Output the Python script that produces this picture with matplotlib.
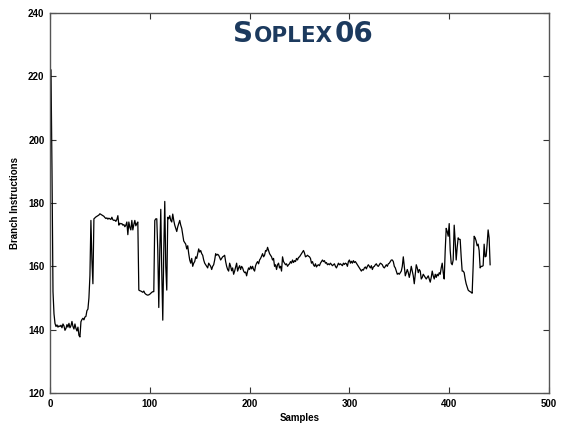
import numpy as np
import matplotlib
matplotlib.use("Agg")
from matplotlib import pyplot as plt
from matplotlib.offsetbox import TextArea, HPacker, AnchoredOffsetbox

OUTPUT_FILE = 'out.png'

# branch instructions per sample (one value per sample)
branch = [
    222.5, 222, 190, 152, 145, 142, 141, 141.5, 140.8, 141.2,
    141, 141.4, 140.6, 141.8, 141.2, 139.8, 140.4, 141.6, 140.8, 142,
    140.6, 141.2, 142.6, 141, 140.2, 141.8, 140.4, 139.6, 140.8, 138.2,
    137.7, 142.5, 143.2, 143.6, 143.1, 144, 144.2, 146, 146.5, 150,
    157, 174.5, 162, 154.5, 175, 175.3, 175.6, 175.8, 176, 176.2,
    176.6, 176.4, 176.2, 176, 175.8, 175.4, 175.1, 175.3, 174.9, 175.2,
    175, 174.8, 175.5, 174.7, 174.5, 174.6, 174.2, 174.8, 176, 173,
    173.6, 173.4, 173.5, 173, 173.2, 172.5, 173, 174, 170, 174,
    172.3, 171.5, 174.5, 171.5, 173.2, 174.5, 172.8, 173.5, 174, 152.5,
    152.3, 152.2, 152, 151.8, 152.2, 151.5, 151.2, 151, 150.9, 151,
    151.2, 151.5, 151.8, 152, 152, 174.5, 175, 175, 165, 147,
    165, 178, 158, 143, 165, 180.5, 160, 152.5, 175.5, 175,
    176, 174.5, 174, 176.5, 174.5, 173, 172, 171, 172.5, 173.5,
    174.5, 173, 172, 170, 168, 167.5, 167, 165.5, 166.5, 164,
    162, 161, 162.5, 160, 161, 161.5, 163, 162.5, 164, 165.5,
    164.5, 165, 164, 163.5, 162, 161, 160.5, 160, 159.5, 161,
    160.5, 160, 159, 160, 160.5, 162, 164, 163.5, 163.8, 163.5,
    162.8, 162, 162.5, 163, 163.2, 163.5, 161.5, 160, 159, 158.5,
    161, 160, 158.6, 159.5, 157.5, 158.5, 159.8, 161, 158.5, 159.5,
    160.2, 159, 160, 159.5, 158.5, 158, 158.2, 157, 158.5, 159.5,
    159, 160, 159.2, 160, 159, 158.5, 160.2, 161, 161.5, 160.8,
    162, 162.5, 163.2, 164, 163, 163.5, 165, 164.8, 166, 165,
    164, 163.5, 163, 162, 162.5, 160, 160.5, 159, 160.5, 161,
    159.5, 160, 158.5, 163, 161.5, 161, 160.5, 160.8, 160, 160.5,
    160.8, 161.5, 161, 162, 161.2, 161.8, 161.5, 162.5, 162, 162.8,
    163, 163.5, 164, 164.5, 165, 164.2, 163, 163.2, 163.5, 163.2,
    163, 162.5, 161, 161.5, 160.5, 160, 160.8, 159.8, 160.3, 160.5,
    160.2, 161, 161.5, 162, 161.5, 161.8, 161, 161.2, 160.5, 160.8,
    160.5, 161, 160.6, 160.2, 160.5, 160.8, 160, 159.5, 160.2, 161,
    160.5, 160.8, 160.5, 160.2, 161, 160.6, 161, 160.8, 160, 161.5,
    162, 161, 161.6, 161, 161.8, 161.2, 161.5, 161, 160.5, 160,
    159.5, 159, 158.5, 159, 158.8, 159.5, 159.8, 159.2, 160, 160.5,
    160, 159.5, 160.2, 159, 159.8, 160, 160.5, 160.8, 160.2, 160,
    160.5, 161, 160.8, 160.5, 159.8, 159.5, 160, 160.5, 160, 160.8,
    161, 161.5, 162, 162, 161.5, 160, 159.5, 158.5, 157.5, 157.8,
    157.5, 158, 158.5, 160, 163, 160, 157, 158, 159, 158,
    156.5, 158, 160, 158.5, 157, 154.5, 157.5, 160.5, 159.5, 158,
    159, 158.5, 156, 156.5, 157.5, 157, 156.5, 156, 156.5, 157,
    156, 155, 156.5, 158.5, 157, 156, 157.5, 156.5, 157.5, 157,
    158, 157.5, 159.5, 161, 158, 156, 165, 172, 171, 169.5,
    173.5, 165, 161, 160.5, 162, 173, 168, 162, 166, 169,
    168.5, 168.5, 163, 158.5, 158.5, 158, 156, 154.5, 153.5, 152.5,
    152.2, 152, 151.8, 151.5, 160, 169.5, 169, 168, 166.5, 167,
    165, 159.5, 160, 160, 160.2, 167, 163, 163.2, 167, 171.5,
    169, 160.5,
]
samples = np.arange(len(branch))

x_ticks = [0, 100, 200, 300, 400, 500]
y_ticks = [120, 140, 160, 180, 200, 220, 240]

plt.rcParams['font.family'] = ['Liberation Sans', 'DejaVu Sans']

fig = plt.figure(figsize=(5.63, 4.25), dpi=100)
ax = fig.add_axes([50 / 563, 1 - 393 / 425, 499 / 563, 380 / 425])

ax.plot(samples, branch, color='black', lw=0.9)

ax.set_xlim(0, 500)
ax.set_ylim(120, 240)
ax.set_xticks(x_ticks)
ax.set_yticks(y_ticks)
ax.tick_params(direction='in', top=True, right=True, length=4, width=0.8,
               labelsize=7, pad=4, color='#333333')
for lbl in ax.get_xticklabels() + ax.get_yticklabels():
    lbl.set_fontweight('bold')
for sp in ax.spines.values():
    sp.set_color('#555555')
    sp.set_linewidth(1.0)

ax.set_xlabel('Samples', fontsize=7, fontweight='bold', labelpad=3)
ax.set_ylabel('Branch Instructions', fontsize=7, fontweight='bold', labelpad=6)

# small-caps title
navy = '#1c3a5e'
parts = [('S', 20), ('OPLEX', 15.5), ('06', 20)]
areas = [TextArea(t, textprops=dict(fontsize=s, color=navy, fontweight='bold',
                                    family='DejaVu Sans')) for t, s in parts]
box = HPacker(children=areas, align='baseline', pad=0, sep=1)
anchored = AnchoredOffsetbox(loc='center', child=box, frameon=False, pad=0, borderpad=0,
                             bbox_to_anchor=(303 / 563, 1 - 34 / 425),
                             bbox_transform=fig.transFigure)
fig.add_artist(anchored)

plt.savefig(OUTPUT_FILE, dpi=100)
